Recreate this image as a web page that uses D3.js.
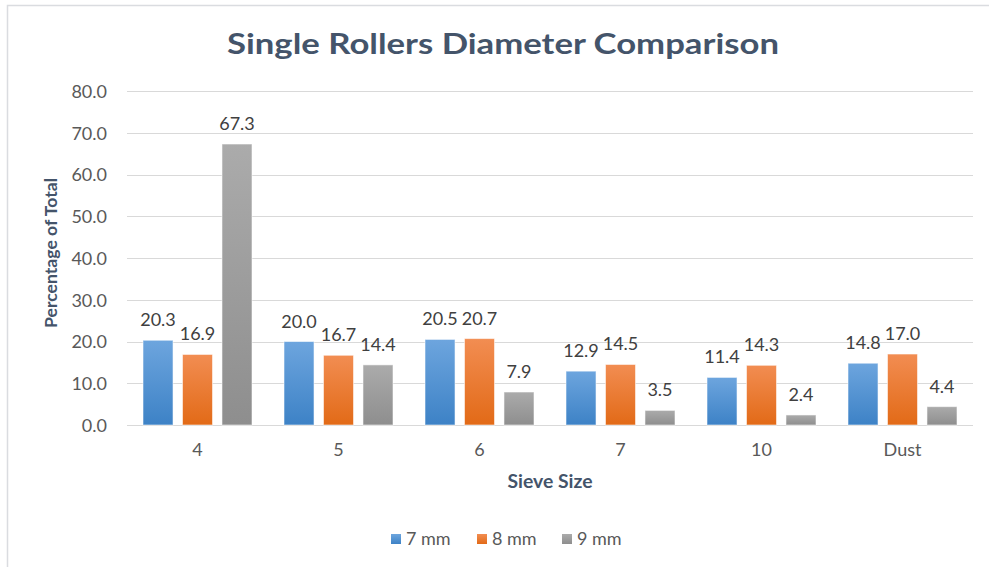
<!DOCTYPE html>
<html>
<head>
<meta charset="utf-8">
<script src="https://cdn.jsdelivr.net/npm/d3@7"></script>
<style>
  html, body { margin: 0; padding: 0; background: #fff; }
  svg { display: block; font-family: Lato, "Open Sans", sans-serif; }
</style>
</head>
<body>
<svg id="chart" width="989" height="567"></svg>
<script>
// Sieve categories and the share retained for each roller diameter
const categories = ["4", "5", "6", "7", "10", "Dust"];
const seriesNames = ["7 mm", "8 mm", "9 mm"];
const values7mm = [20.3, 20.0, 20.5, 12.9, 11.4, 14.8];
const values8mm = [16.9, 16.7, 20.7, 14.5, 14.3, 17.0];
const values9mm = [67.3, 14.4, 7.9, 3.5, 2.4, 4.4];
const yTicks = [0, 10, 20, 30, 40, 50, 60, 70, 80];

const seriesValues = [values7mm, values8mm, values9mm];
const palette = [
  { top: "#6da5de", bottom: "#3d82c6" },
  { top: "#f28d52", bottom: "#e26a17" },
  { top: "#ababab", bottom: "#8e8e8e" }
];

const svg = d3.select("#chart");
const W = 989, H = 567;
const plot = { left: 127, right: 973, top: 91, bottom: 425 };
const textFont = 18;

// Gradients for bar fills
const defs = svg.append("defs");
palette.forEach((c, i) => {
  const g = defs.append("linearGradient")
    .attr("id", "grad" + i).attr("x1", 0).attr("y1", 0).attr("x2", 0).attr("y2", 1);
  g.append("stop").attr("offset", "0%").attr("stop-color", c.top);
  g.append("stop").attr("offset", "100%").attr("stop-color", c.bottom);
});

// Outer frame (only the left and top edges fall inside the canvas)
svg.append("path")
  .attr("d", `M7.5,${H} V5.5 H${W}`)
  .attr("fill", "none").attr("stroke", "#dadce0").attr("stroke-width", 1.5);

const x = d3.scaleBand().domain(categories).range([plot.left, plot.right]).padding(0);
const groupPad = 16;
const xInner = d3.scaleBand().domain(seriesNames)
  .range([groupPad, x.bandwidth() - groupPad]).paddingInner(0.24);
const y = d3.scaleLinear().domain([0, 80]).range([plot.bottom, plot.top]);

// Gridlines
svg.append("g")
  .selectAll("line").data(yTicks).join("line")
  .attr("x1", plot.left).attr("x2", plot.right)
  .attr("y1", d => Math.round(y(d)) + 0.5).attr("y2", d => Math.round(y(d)) + 0.5)
  .attr("stroke", "#d9d9d9").attr("stroke-width", 1);

// Y axis labels
const yAxis = d3.axisLeft(y).tickValues(yTicks).tickFormat(d3.format(".1f")).tickSize(0).tickPadding(0);
const yg = svg.append("g").attr("transform", `translate(107,0)`).call(yAxis);
yg.select(".domain").remove();
yg.selectAll("text").attr("font-size", textFont).attr("fill", "#595959")
  .attr("font-family", "Lato, sans-serif").attr("dy", "0.35em");

// X axis labels
const xAxis = d3.axisBottom(x).tickSize(0).tickPadding(0);
const xg = svg.append("g").attr("transform", `translate(0,${plot.bottom + 17})`).call(xAxis);
xg.select(".domain").remove();
xg.selectAll("text").attr("font-size", textFont).attr("fill", "#595959")
  .attr("font-family", "Lato, sans-serif").attr("dy", "0.75em");

// Bars and value labels
const groups = svg.append("g").selectAll("g").data(categories).join("g")
  .attr("transform", d => `translate(${x(d)},0)`);

seriesNames.forEach((s, si) => {
  groups.append("rect")
    .attr("x", xInner(s))
    .attr("width", xInner.bandwidth())
    .attr("y", (d, ci) => y(seriesValues[si][ci]))
    .attr("height", (d, ci) => y(0) - y(seriesValues[si][ci]))
    .attr("fill", `url(#grad${si})`)
    .attr("stroke", "#ffffff").attr("stroke-opacity", 0.55).attr("stroke-width", 1);
  groups.append("text")
    .attr("x", xInner(s) + xInner.bandwidth() / 2)
    .attr("y", (d, ci) => y(seriesValues[si][ci]) - 14)
    .attr("text-anchor", "middle")
    .attr("font-size", textFont).attr("fill", "#404040")
    .text((d, ci) => seriesValues[si][ci].toFixed(1));
});

// Title
svg.append("text")
  .attr("x", 503).attr("y", 54).attr("text-anchor", "middle")
  .attr("font-size", 28).attr("font-weight", "bold").attr("fill", "#44546a")
  .attr("textLength", 552).attr("lengthAdjust", "spacingAndGlyphs")
  .text("Single Rollers Diameter Comparison");

// Axis titles
svg.append("text")
  .attr("transform", `translate(57,${(plot.top + plot.bottom) / 2 - 5}) rotate(-90)`)
  .attr("text-anchor", "middle").attr("font-size", 17).attr("font-weight", "bold")
  .attr("fill", "#44546a")
  .attr("textLength", 150).attr("lengthAdjust", "spacingAndGlyphs")
  .text("Percentage of Total");

svg.append("text")
  .attr("x", 550).attr("y", 488).attr("text-anchor", "middle")
  .attr("font-size", 18).attr("font-weight", "bold").attr("fill", "#44546a")
  .attr("textLength", 85).attr("lengthAdjust", "spacingAndGlyphs")
  .text("Sieve Size");

// Legend
const legendX = [391, 477, 562];
const legend = svg.append("g").selectAll("g").data(seriesNames).join("g")
  .attr("transform", (d, i) => `translate(${legendX[i]},539)`);
legend.append("rect").attr("x", 0).attr("y", -5).attr("width", 10).attr("height", 10)
  .attr("fill", (d, i) => `url(#grad${i})`);
legend.append("text").attr("x", 15).attr("y", 0).attr("dy", "0.35em")
  .attr("font-size", textFont).attr("fill", "#595959").text(d => d);
</script>
</body>
</html>
